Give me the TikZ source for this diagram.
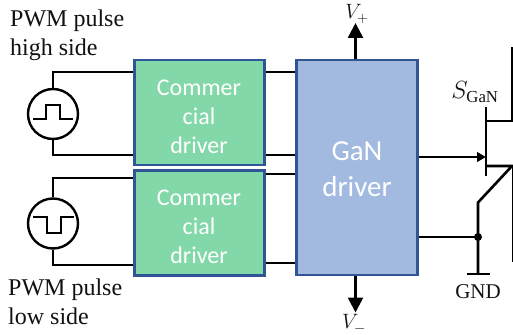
\documentclass[tikz,border=0pt]{standalone}
\usepackage{fontspec}
\setmainfont{Liberation Serif}
\setsansfont{Carlito}
\usetikzlibrary{arrows.meta}
\definecolor{boxblue}{HTML}{2F5597}
\definecolor{commgreen}{HTML}{82D8A8}
\definecolor{ganblue}{HTML}{A2B9E0}
\definecolor{labblack}{HTML}{111111}
\tikzset{
  x=1pt,y=-1pt,
  wire/.style={line width=2.6pt,black,line cap=butt},
  commbox/.style={draw=boxblue,line width=2.4pt,fill=commgreen,minimum width=130pt,inner sep=0pt},
  ganbox/.style={draw=boxblue,line width=2.4pt,fill=ganblue,minimum width=121pt,minimum height=215pt,inner sep=0pt},
  commtext/.style={text=white,font=\sffamily\fontsize{24}{29}\selectfont,align=center,inner sep=0pt},
  gantext/.style={text=white,font=\sffamily\fontsize{29}{36.5}\selectfont,align=center,inner sep=0pt},
  src/.style={circle,draw=black,line width=2.4pt,fill=white,minimum size=50pt,inner sep=0pt},
  lab/.style={font=\fontsize{24}{28.5}\selectfont,align=left,inner sep=0pt,text=labblack},
  mathlab/.style={font=\fontsize{22}{22}\selectfont,inner sep=0pt,text=labblack},
  power/.style={wire,-{Triangle[length=15pt,width=15pt]}},
  gatearrow/.style={wire,-{Triangle[length=9pt,width=9.5pt]}},
}
\begin{document}
\begin{tikzpicture}
\useasboundingbox (0,0) rectangle (513,334);
% driver boxes
\node[commbox,minimum height=105pt] (c1) at (199.5,112.5) {};
\node[commbox,minimum height=105pt] (c2) at (199.5,223) {};
\node[commtext] (c1t) at (199,116.5) {Commer\\cial\\driver};
\node[commtext] (c2t) at (199,227) {Commer\\cial\\driver};
\node[ganbox] (g) at (357,167.5) {};
\node[gantext] (gt) at (357,169) {GaN\\driver};
% sources
\node[src] (s1) at (53,114) {};
\node[src] (s2) at (53,223.5) {};
\draw[wire] (s1.north) -- (53,72) -- (c1.west |- 53,72);
\draw[wire] (s1.south) -- (53,155) -- (c1.west |- 53,155);
\draw[wire] (s2.north) -- (53,178) -- (c2.west |- 53,178);
\draw[wire] (s2.south) -- (53,265) -- (c2.west |- 53,265);
\draw[line width=2.4pt] (33,119) -- (46,119) -- (46,105) -- (60,105) -- (60,119) -- (73,119);
\draw[line width=2.4pt] (33,217) -- (47,217) -- (47,233) -- (61,233) -- (61,217) -- (74,217);
% between
\draw[wire] (c1.east |- 0,72) -- (g.west |- 0,72);
\draw[wire] (c1.east |- 0,155) -- (g.west |- 0,155);
\draw[wire] (c2.east |- 0,174) -- (g.west |- 0,174);
\draw[wire] (c2.east |- 0,263) -- (g.west |- 0,263);
% power
\coordinate (vp) at (355.5,23);
\coordinate (vm) at (355.5,312.5);
\draw[power] (g.north -| vp) -- (vp);
\draw[power] (g.south -| vm) -- (vm);
\node[mathlab] (vpl) at (357,14) {$V_{+}$};
\node[mathlab] (vml) at (354,324) {$V_{-}$};
% transistor
\coordinate (gatept) at (486,157);
\coordinate (jn) at (478,237);
\coordinate (d) at (512,121);
\coordinate (sc) at (512,166);
\draw[gatearrow] (g.east |- gatept) -- (gatept);
\draw[wire] (486,107) -- (486,176);
\draw[wire,line join=miter] (486,121) -- (d) -- (512,47);
\draw[wire] (486,166) -- (sc) -- (478,202.5) -- (478,274);
\draw[wire] (513,166) -- (513,262);
\draw[wire] (g.east |- jn) -- (jn);
\fill (jn) circle (4pt);
\draw[wire] (466.5,274) -- (489.5,274);
% labels
\node[lab,anchor=north west] (t1) at (10,10) {PWM pulse\\high side};
\node[lab,anchor=north west] (t2) at (8,279) {PWM pulse\\low side};
\node[mathlab,font=\fontsize{24}{24}\selectfont,anchor=center] (t3) at (475,92) {$S_{\mathrm{GaN}}$};
\node[lab,anchor=center,font=\fontsize{21}{21}\selectfont] (t4) at (478,292) {GND};
\end{tikzpicture}
\end{document}
